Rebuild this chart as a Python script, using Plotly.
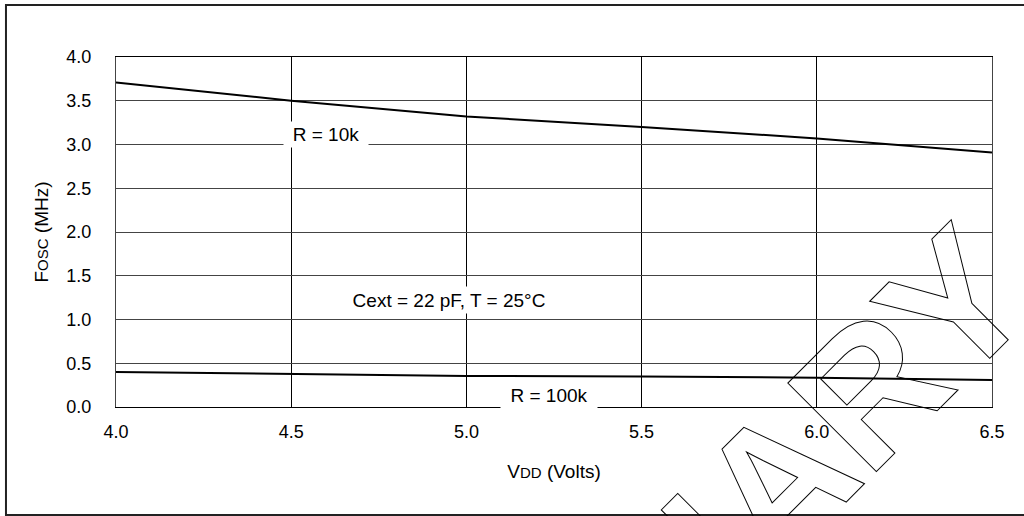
import plotly.graph_objects as go

# ---- data ----
vdd = [4.0, 4.5, 5.0, 5.5, 6.0, 6.5]
fosc_10k = [3.71, 3.50, 3.32, 3.20, 3.07, 2.91]
fosc_100k = [0.40, 0.375, 0.355, 0.35, 0.335, 0.31]

x_ticks = [4.0, 4.5, 5.0, 5.5, 6.0, 6.5]
y_ticks = [0.0, 0.5, 1.0, 1.5, 2.0, 2.5, 3.0, 3.5, 4.0]

FONT = "Liberation Sans, Arial, sans-serif"

fig = go.Figure()
fig.add_trace(go.Scatter(x=vdd, y=fosc_10k, mode="lines",
                         line=dict(color="#000", width=2), name="R = 10k"))
fig.add_trace(go.Scatter(x=vdd, y=fosc_100k, mode="lines",
                         line=dict(color="#000", width=2), name="R = 100k"))

fig.update_layout(
    width=1024, height=516,
    margin=dict(l=116, r=32, t=57, b=109),
    paper_bgcolor="white", plot_bgcolor="white",
    showlegend=False,
    font=dict(family=FONT, size=18, color="#000"),
)

fig.update_xaxes(
    range=[4.0, 6.5], tickvals=x_ticks, tickformat=".1f",
    showgrid=True, gridcolor="#000", gridwidth=1,
    showline=True, linecolor="#000", linewidth=1, mirror=True,
    zeroline=False, ticks="", ticklabelstandoff=8,
    tickfont=dict(family=FONT, size=18, color="#000"),
    title=dict(text="V<span style='font-size:15px'>DD</span> (Volts)",
               font=dict(family=FONT, size=19, color="#000"), standoff=24),
)
fig.update_yaxes(
    range=[0, 4.0], tickvals=y_ticks, tickformat=".1f",
    showgrid=True, gridcolor="#444", gridwidth=1,
    showline=True, linecolor="#444", linewidth=1, mirror=True,
    zeroline=False, ticks="", ticklabelstandoff=20,
    tickfont=dict(family=FONT, size=18, color="#000"),
    title=dict(text="F<span style='font-size:15px'>OSC</span> (MHz)",
               font=dict(family=FONT, size=19, color="#000"), standoff=12),
)

# outer frame
fig.add_shape(type="rect", xref="paper", yref="paper",
              x0=-0.1256, x1=1.04, y0=-0.3086, y1=1.1486,
              line=dict(color="#222", width=2), fillcolor="rgba(0,0,0,0)")

# curve / condition labels
fig.add_annotation(x=4.599, y=3.111, text="R = 10k", showarrow=False,
                   bgcolor="white", width=84, height=25, borderpad=0,
                   font=dict(family=FONT, size=19, color="#000"))
fig.add_annotation(x=5.236, y=0.128, text="R = 100k", showarrow=False,
                   bgcolor="white", width=96, height=25, borderpad=0,
                   font=dict(family=FONT, size=19, color="#000"))
fig.add_annotation(x=4.949, y=1.219, text="Cext = 22 pF, T = 25°C", showarrow=False,
                   bgcolor="white", width=212, height=26, borderpad=0,
                   font=dict(family=FONT, size=19, color="#000"))

# watermark
fig.add_annotation(xref="paper", yref="paper", x=0.5023, y=-0.8457,
                   xanchor="center", yanchor="middle",
                   text="PRELIMINARY", showarrow=False, textangle=-45,
                   font=dict(family=FONT, size=182, color="#000", weight="bold"))

post = """
document.body.style.margin = '0';
document.body.style.overflow = 'hidden';
document.querySelectorAll('text.annotation-text').forEach(function(t){
  if (t.textContent.indexOf('PRELIMINARY') >= 0) {
    t.style.fill = 'none';
    t.style.stroke = '#000';
    t.style.strokeWidth = '1px';
  }
});
"""

fig.write_html("out.html", post_script=post, config={"displayModeBar": False})
